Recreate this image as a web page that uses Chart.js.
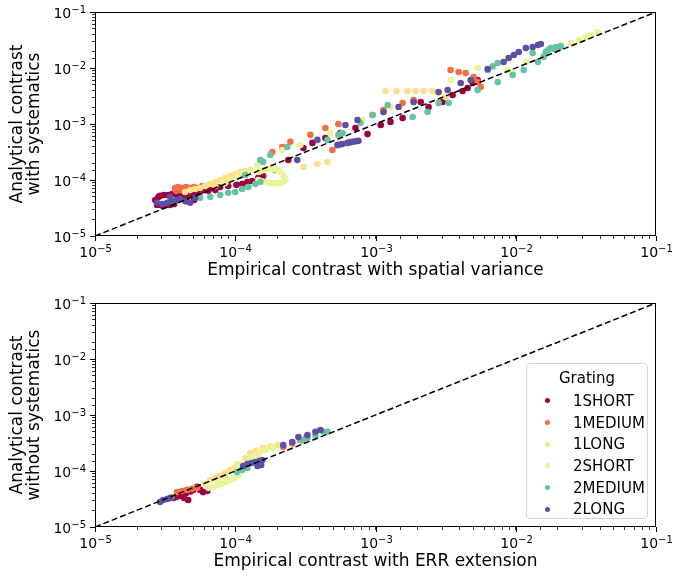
<!DOCTYPE html>
<html>
<head>
<meta charset="utf-8">
<script src="https://cdn.jsdelivr.net/npm/chart.js@4.4.1/dist/chart.umd.min.js"></script>
<style>
  body { margin: 0; background: #fff; font-family: 'DejaVu Sans', sans-serif; }
  #wrap { position: relative; width: 673px; height: 577px; }
  .box { position: absolute; left: 0; width: 673px; height: 286px; }
  #legend {
    position: absolute; left: 526px; top: 363px; width: 122px; height: 156px;
    border: 1px solid #d6d6d6; border-radius: 4px; background: rgba(255,255,255,0.85);
    font-size: 15px; color: #000; box-sizing: border-box; white-space: nowrap;
  }
  #legend .title { text-align: center; margin-top: 2px; height: 24px; line-height: 24px; }
  #legend .row { height: 21.7px; display: flex; align-items: center; }
  #legend .dot { flex: 0 0 5px; width: 5px; height: 5px; border-radius: 50%; margin-left: 18px; margin-right: 23px; }
</style>
</head>
<body>
<div id="wrap">
  <div class="box" style="top:0"><canvas id="topChart" width="673" height="286"></canvas></div>
  <div class="box" style="top:291px"><canvas id="bottomChart" width="673" height="286"></canvas></div>
  <div id="legend"></div>
</div>
<script>
const gratings = ["1SHORT", "1MEDIUM", "1LONG", "2SHORT", "2MEDIUM", "2LONG"];
const colors = ["#9e0142", "#f46d43", "#fee08b", "#e6f598", "#66c2a5", "#5e4fa2"];
const axisMin = 1e-5, axisMax = 1e-1;

// upper panel: [empirical (spatial variance), analytical with systematics]
const top1Short = [[2.77e-5,3.58e-5],[2.91e-5,3.58e-5],[3.06e-5,3.43e-5],[3.21e-5,3.58e-5],[3.43e-5,3.58e-5],[3.67e-5,3.73e-5],
  [2.69e-5,4.4e-5],[2.84e-5,5.0e-5],[2.91e-5,5.2e-5],[3.1e-5,5.4e-5],[3.32e-5,5.4e-5],[3.55e-5,5.6e-5],[3.79e-5,5.6e-5],[4.05e-5,5.4e-5],
  [4.32e-5,5.2e-5],[4.62e-5,5.4e-5],[4.93e-5,5.6e-5],[5.26e-5,5.9e-5],[5.62e-5,6.1e-5],[3.92e-5,4.4e-5],[4.47e-5,4.2e-5],[5.09e-5,4.4e-5],
  [6.1e-5,6.6e-5],[6.42e-5,6.4e-5],[6.85e-5,7.2e-5],[7.2e-5,6.6e-5],[7.81e-5,7.5e-5],[8.91e-5,7.8e-5],[1.02e-4,8.2e-5],[1.12e-4,8.5e-5],
  [1.22e-4,9.2e-5],[1.32e-4,9.6e-5],[1.46e-4,1.09e-4],[1.58e-4,1.18e-4],[1.93e-4,1.51e-4],[2.39e-4,2.28e-4],[3.06e-4,3.73e-4],[3.55e-4,4.6e-4],
  [4.39e-4,5.6e-4],[5.62e-4,6.9e-4],[7.2e-4,8.5e-4],[8.77e-4,6.6e-4],[1.09e-3,9.6e-4],[1.28e-3,1.09e-3],[1.56e-3,1.28e-3],[2.1e-3,2.47e-3],
  [2.39e-3,2.01e-3],[3.01e-3,2.47e-3],[3.55e-3,3.3e-3],[4.18e-3,3.88e-3],[4.54e-3,4.4e-3],[4.93e-3,5.4e-3],[5.35e-3,6.1e-3]];
const top1Medium = [[3.73e-5,7.2e-5],[3.92e-5,7.5e-5],[4.18e-5,7.2e-5],[4.47e-5,7.5e-5],[4.77e-5,7.2e-5],[5.09e-5,7.5e-5],[5.44e-5,7.2e-5],
  [5.81e-5,7.8e-5],[3.79e-5,6.4e-5],[4.05e-5,6.6e-5],[1.09e-4,1.23e-4],[1.51e-4,2.28e-4],[1.84e-4,3.16e-4],[2.17e-4,3.88e-4],[2.47e-4,4.8e-4],
  [3.43e-4,6.4e-4],[4.39e-4,8.5e-4],[5.44e-4,1.0e-3],[4.93e-4,3.43e-4],[9.52e-4,1.45e-3],[1.14e-3,1.78e-3],[1.56e-3,2.37e-3],[1.87e-3,2.68e-3],
  [3.43e-3,9.2e-3],[3.92e-3,8.5e-3],[4.39e-3,8.1e-3],[5.01e-3,6.9e-3],[5.35e-3,5.6e-3],[5.62e-3,4.6e-3]];
const top1Long = [[4.39e-5,6.1e-5],[4.77e-5,6.6e-5],[5.18e-5,6.9e-5],[5.62e-5,7.2e-5],[6.1e-5,7.8e-5],[6.63e-5,8.5e-5],[7.2e-5,9.2e-5],
  [7.81e-5,1.0e-4],[8.48e-5,1.09e-4],[9.2e-5,1.18e-4],[1.0e-4,1.28e-4],[1.09e-4,1.39e-4],[1.18e-4,1.45e-4],[1.28e-4,1.51e-4],[7.2e-5,7.8e-5],
  [8.48e-5,8.8e-5],[3.06e-4,1.71e-4],[3.85e-4,1.93e-4],[4.54e-4,2.1e-4],[5.62e-4,6.4e-4],[1.18e-3,3.88e-3],[1.41e-3,3.88e-3],[1.69e-3,3.88e-3],
  [1.93e-3,3.88e-3],[2.2e-3,3.88e-3],[2.55e-3,3.88e-3],[2.77e-3,3.58e-3],[3.16e-3,3.03e-3]];
const top2Short = [[8.2e-5,8.8e-5],[9.2e-5,1.0e-4],[1.03e-4,1.13e-4],[1.14e-4,1.28e-4],[1.28e-4,1.51e-4],[1.44e-4,1.85e-4],
  [1.46e-4,1.39e-4],[1.52e-4,1.45e-4],[1.58e-4,1.51e-4],[1.68e-4,1.55e-4],[1.78e-4,1.57e-4],[1.9e-4,1.55e-4],[2.0e-4,1.51e-4],[2.1e-4,1.38e-4],
  [2.2e-4,1.23e-4],[2.25e-4,1.1e-4],[2.28e-4,1.0e-4],[2.2e-4,9.3e-5],[2.1e-4,8.8e-5],[1.97e-4,8.7e-5],[1.84e-4,8.8e-5],[1.74e-4,8.9e-5],
  [1.64e-4,9.2e-5],[1.55e-4,9.5e-5],[1.46e-4,1.0e-4],[2.17e-4,3.43e-4],[2.91e-4,4.2e-4],[4.77e-4,6.9e-4],[8.07e-4,1.18e-3],[1.28e-3,2.01e-3],
  [3.43e-3,6.1e-3],[5.35e-3,1.0e-2],[8.77e-3,9.2e-3],[9.52e-3,8.1e-3],[1.18e-2,1.28e-2],[1.58e-2,1.71e-2],[2.1e-2,2.58e-2],[2.47e-2,2.79e-2],
  [2.82e-2,3.16e-2],[3.16e-2,3.58e-2],[3.43e-2,3.88e-2],[3.85e-2,4.4e-2]];
const top2Medium = [[5.62e-5,4.8e-5],[6.63e-5,5.0e-5],[7.81e-5,5.4e-5],[8.91e-5,5.9e-5],[1.0e-4,6.1e-5],[1.12e-4,6.9e-5],[1.24e-4,7.5e-5],
  [1.39e-4,8.5e-5],[1.51e-4,9.2e-5],[1.51e-4,2.28e-4],[1.58e-4,2.1e-4],[1.78e-4,2.79e-4],[2.35e-4,3.88e-4],[1.18e-4,1.23e-4],
  [4.54e-4,5.2e-4],[5.44e-4,6.4e-4],[5.81e-4,6.9e-4],[7.81e-4,1.04e-3],[9.52e-4,1.45e-3],[1.22e-3,2.18e-3],[1.84e-3,1.33e-3],[2.35e-3,1.64e-3],
  [2.82e-3,2.37e-3],[3.32e-3,2.37e-3],[5.35e-3,4.05e-3],[6.31e-3,9.2e-3],[6.85e-3,1.07e-2],[7.44e-3,1.23e-2],[7.44e-3,5.6e-3],[9.52e-3,7.5e-3],
  [1.14e-2,9.2e-3],[1.32e-2,1.85e-2],[1.44e-2,1.28e-2],[1.58e-2,1.57e-2],[1.64e-2,1.93e-2],[1.7e-2,2.1e-2],[1.78e-2,2.28e-2],[1.86e-2,2.2e-2],
  [1.93e-2,2.37e-2],[2.03e-2,2.28e-2],[2.1e-2,2.45e-2]];
const top2Long = [[2.77e-5,3.93e-5],[3.01e-5,3.73e-5],[3.27e-5,3.93e-5],[3.55e-5,4.05e-5],[3.79e-5,4.4e-5],[4.05e-5,4.58e-5],[4.39e-5,4.2e-5],
  [4.77e-5,3.93e-5],[3.43e-5,5.0e-5],[5.18e-5,4.8e-5],[2.77e-4,2.28e-4],[3.85e-4,5.2e-4],[6.1e-4,9.6e-4],[7.44e-4,1.18e-3],[5.35e-4,4.2e-4],
  [5.6e-4,4.3e-4],[5.81e-4,4.4e-4],[6.31e-4,4.6e-4],[6.6e-4,4.7e-4],[6.85e-4,4.8e-4],[7.2e-4,4.9e-4],[7.56e-4,5.0e-4],[1.14e-3,1.64e-3],
  [1.46e-3,2.01e-3],[1.87e-3,2.47e-3],[2.82e-3,3.73e-3],[3.27e-3,4.05e-3],[4.05e-3,5.4e-3],[4.77e-3,6.1e-3],[6.31e-3,9.6e-3],[8.2e-3,1.28e-2],
  [8.91e-3,1.51e-2],[9.68e-3,1.71e-2],[1.05e-2,1.93e-2],[1.18e-2,2.28e-2],[1.32e-2,2.37e-2],[1.44e-2,2.58e-2],[1.51e-2,2.68e-2]];

// lower panel: [empirical (ERR extension), analytical without systematics]
const bot1Short = [[3.61e-5,3.3e-5],[3.79e-5,3.45e-5],[4.05e-5,3.58e-5],[4.32e-5,3.3e-5],[4.62e-5,3.03e-5],[3.92e-5,3.88e-5],[4.47e-5,4.05e-5],
  [5.01e-5,4.6e-5],[5.35e-5,5.2e-5],[5.62e-5,4.6e-5],[5.9e-5,4.2e-5],[6.31e-5,4.4e-5],[4.2e-5,3.7e-5],[4.8e-5,4.3e-5]];
const bot1Medium = [[3.85e-5,4.2e-5],[4.18e-5,4.4e-5],[4.54e-5,4.6e-5],[4.93e-5,4.8e-5],[5.35e-5,5.0e-5],[2.2e-4,2.68e-4],[2.55e-4,3.1e-4],
  [2.91e-4,3.58e-4],[3.2e-4,3.9e-4]];
const bot1Long = [[6.1e-5,5.9e-5],[6.63e-5,6.9e-5],[7.2e-5,7.5e-5],[7.81e-5,8.2e-5],[8.48e-5,9.2e-5],[9.2e-5,1.04e-4],[1.0e-4,1.18e-4],
  [1.09e-4,1.28e-4],[1.18e-4,1.71e-4],[1.28e-4,2.1e-4],[1.4e-4,2.3e-4],[1.58e-4,2.58e-4],[1.78e-4,2.75e-4],[2.0e-4,2.91e-4]];
const bot2Short = [[6.42e-5,5.0e-5],[6.96e-5,5.2e-5],[7.56e-5,5.6e-5],[8.07e-5,5.9e-5],[8.63e-5,6.4e-5],[9.2e-5,6.9e-5],[9.84e-5,7.5e-5],
  [1.05e-4,8.5e-5],[1.03e-4,1.33e-4],[1.3e-4,1.75e-4],[1.44e-4,1.93e-4],[1.5e-4,2.15e-4],[1.64e-4,2.37e-4],[1.85e-4,2.6e-4],
  [7.5e-5,6.5e-5],[8.5e-5,7.6e-5]];
const bot2Medium = [[1.03e-4,9.6e-5],[1.12e-4,1.04e-4],[1.22e-4,1.13e-4],[3.27e-4,3.88e-4],[3.73e-4,4.4e-4],[4.26e-4,5.0e-4],[4.54e-4,5.0e-4],
  [3.5e-5,3.4e-5],[3.0e-4,3.5e-4]];
const bot2Long = [[2.91e-5,2.79e-5],[3.06e-5,3.03e-5],[3.27e-5,3.16e-5],[3.43e-5,3.3e-5],[1.14e-4,1.23e-4],[1.22e-4,1.33e-4],[1.3e-4,1.39e-4],
  [1.39e-4,1.45e-4],[1.48e-4,1.51e-4],[1.56e-4,1.57e-4],[1.44e-4,1.23e-4],[1.53e-4,1.28e-4],[2.2e-4,2.91e-4],[2.55e-4,3.3e-4],[2.82e-4,4.05e-4],
  [3.27e-4,4.4e-4],[3.73e-4,5.0e-4],[4.05e-4,5.4e-4]];

const topSeries = [top1Short, top1Medium, top1Long, top2Short, top2Medium, top2Long];
const bottomSeries = [bot1Short, bot1Medium, bot1Long, bot2Short, bot2Medium, bot2Long];

Chart.defaults.font.family = "'DejaVu Sans', sans-serif";
Chart.defaults.font.size = 17;
Chart.defaults.color = "#000";

function isDecade(v) {
  const e = Math.log10(v);
  return Math.abs(e - Math.round(e)) < 1e-6;
}

// matplotlib-like 10^n labels and longer major ticks
const decadeLabels = {
  id: "decadeLabels",
  afterDraw(chart) {
    const ctx = chart.ctx, a = chart.chartArea;
    ctx.save();
    ctx.fillStyle = "#000";
    ctx.strokeStyle = "#000";
    ctx.lineWidth = 1;
    ctx.textBaseline = "alphabetic";
    ["x", "y"].forEach(id => {
      const scale = chart.scales[id];
      scale.ticks.forEach(t => {
        if (!isDecade(t.value)) return;
        const p = Math.round(scale.getPixelForValue(t.value)) + 0.5;
        const base = "10", exp = "\u2212" + Math.abs(Math.round(Math.log10(t.value)));
        ctx.font = "14px 'DejaVu Sans'";
        const wb = ctx.measureText(base).width;
        ctx.font = "10px 'DejaVu Sans'";
        const we = ctx.measureText(exp).width;
        ctx.beginPath();
        if (id === "x") {
          ctx.moveTo(p, a.bottom); ctx.lineTo(p, a.bottom + 5);
          ctx.stroke();
          const x0 = p - (wb + we) / 2, y0 = a.bottom + 21;
          ctx.font = "14px 'DejaVu Sans'"; ctx.fillText(base, x0, y0);
          ctx.font = "10px 'DejaVu Sans'"; ctx.fillText(exp, x0 + wb, y0 - 5);
        } else {
          ctx.moveTo(a.left, p); ctx.lineTo(a.left - 5, p);
          ctx.stroke();
          const x0 = a.left - 9 - wb - we, y0 = p + 5;
          ctx.font = "14px 'DejaVu Sans'"; ctx.fillText(base, x0, y0);
          ctx.font = "10px 'DejaVu Sans'"; ctx.fillText(exp, x0 + wb, y0 - 5);
        }
      });
    });
    const w = a.right - a.left, h = a.bottom - a.top;
    ctx.strokeRect(a.left + 0.5, a.top + 0.5, w - 1, h - 1);
    ctx.restore();
  }
};

function axis(id, title) {
  return {
    type: "logarithmic",
    min: axisMin,
    max: axisMax,
    border: { display: false },
    grid: { drawOnChartArea: false, tickLength: 3, tickColor: "#000", tickWidth: 0.8 },
    ticks: { autoSkip: false, maxRotation: 0, padding: 2, color: "rgba(0,0,0,0)", font: { size: 14 },
      callback: v => isDecade(v) ? "10" : "" },
    title: { display: true, text: title, font: { lineHeight: 1.0 },
      padding: id === "x" ? { top: 0, bottom: 6.5 } : { top: 9.5, bottom: 0 } },
    afterFit(scale) {
      if (id === "x") {
        scale.height = 50;
        scale.paddingLeft = 0;
        scale.paddingRight = 17;
      } else {
        scale.width = 95;
        scale.paddingTop = 12;
        scale.paddingBottom = 0;
      }
    }
  };
}

function makeChart(id, series, xTitle, yTitle) {
  const datasets = [{
    type: "line",
    data: [{ x: axisMin, y: axisMin }, { x: axisMax, y: axisMax }],
    borderColor: "#000",
    borderWidth: 1.5,
    borderDash: [6, 3],
    pointRadius: 0,
    order: 0
  }];
  series.forEach((pts, i) => {
    datasets.push({
      label: gratings[i],
      data: pts.map(p => ({ x: p[0], y: p[1] })),
      backgroundColor: colors[i],
      borderWidth: 0,
      pointRadius: 3.3,
      order: gratings.length - i
    });
  });
  return new Chart(document.getElementById(id), {
    type: "scatter",
    data: { datasets },
    options: {
      responsive: false,
      animation: false,
      layout: { padding: 0 },
      plugins: { legend: { display: false }, tooltip: { enabled: false } },
      scales: { x: axis("x", xTitle), y: axis("y", yTitle) }
    },
    plugins: [decadeLabels]
  });
}

makeChart("topChart", topSeries, "Empirical contrast with spatial variance", ["Analytical contrast", "with systematics"]);
makeChart("bottomChart", bottomSeries, "Empirical contrast with ERR extension", ["Analytical contrast", "without systematics"]);

const legend = document.getElementById("legend");
legend.innerHTML = '<div class="title">Grating</div>' + gratings.map((g, i) =>
  `<div class="row"><span class="dot" style="background:${colors[i]}"></span>${g}</div>`).join("");
</script>
</body>
</html>
